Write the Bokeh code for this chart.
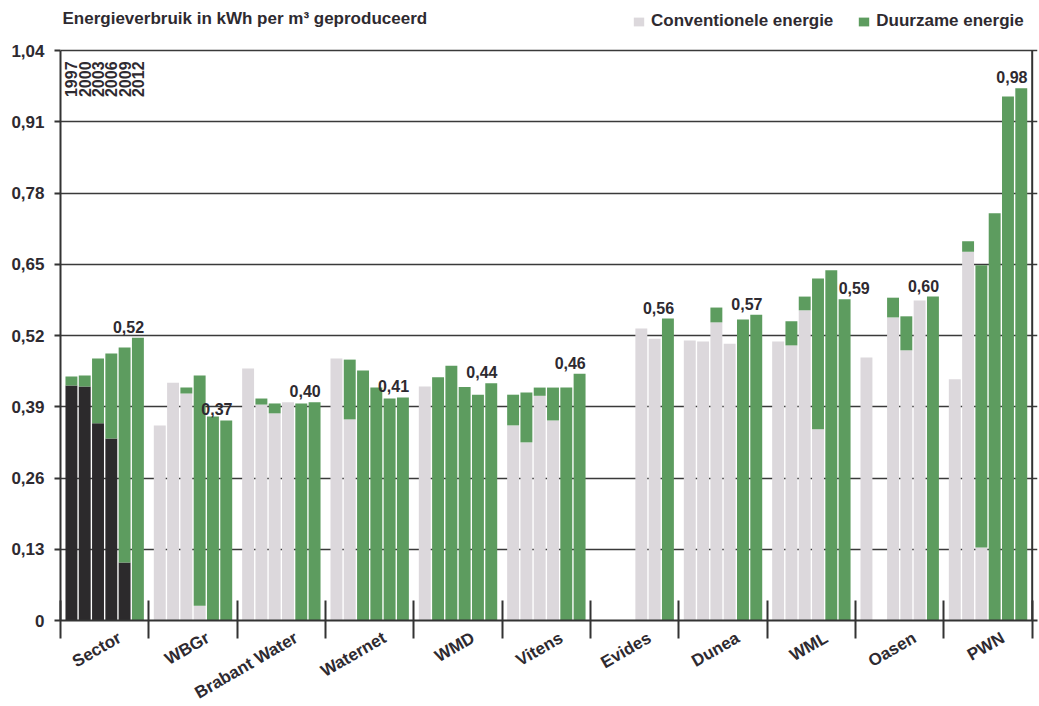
import math
from bokeh.plotting import figure
from bokeh.models import (ColumnDataSource, FixedTicker, Legend, LegendItem,
                          Label, LabelSet, Range1d)
from bokeh.core.properties import value
from bokeh.embed import file_html
from bokeh.resources import INLINE

# ---------------- data ----------------
companies = ["Sector", "WBGr", "Brabant Water", "Waternet", "WMD", "Vitens",
             "Evides", "Dunea", "WML", "Oasen", "PWN"]
years = ["1997", "2000", "2003", "2006", "2009", "2012"]
N = None  # no bar for that year

# conventional energy (kWh per m3), 1997..2012
conv_sector   = [0.429, 0.427, 0.360, 0.332, 0.106, 0.000]
conv_wbgr     = [0.356, 0.434, 0.414, 0.027, 0.000, 0.000]
conv_brabant  = [0.460, 0.394, 0.378, 0.398, 0.000, 0.000]
conv_waternet = [0.478, 0.367, 0.000, 0.000, 0.000, 0.000]
conv_wmd      = [0.427, 0.000, 0.000, 0.000, 0.000, 0.000]
conv_vitens   = [0.356, 0.325, 0.410, 0.365, 0.000, 0.000]
conv_evides   = [N, N, N, 0.533, 0.514, 0.000]
conv_dunea    = [0.511, 0.509, 0.544, 0.505, 0.000, 0.000]
conv_wml      = [0.509, 0.502, 0.566, 0.349, 0.000, 0.000]
conv_oasen    = [0.480, N, 0.553, 0.493, 0.584, 0.000]
conv_pwn      = [0.440, 0.673, 0.133, 0.000, 0.000, 0.000]

# sustainable energy (kWh per m3), 1997..2012
duurz_sector   = [0.016, 0.020, 0.118, 0.155, 0.392, 0.516]
duurz_wbgr     = [0.000, 0.000, 0.011, 0.420, 0.372, 0.365]
duurz_brabant  = [0.000, 0.011, 0.018, 0.000, 0.396, 0.398]
duurz_waternet = [0.000, 0.109, 0.456, 0.425, 0.405, 0.407]
duurz_wmd      = [0.000, 0.444, 0.465, 0.426, 0.412, 0.433]
duurz_vitens   = [0.056, 0.091, 0.015, 0.060, 0.425, 0.450]
duurz_evides   = [N, N, N, 0.000, 0.000, 0.551]
duurz_dunea    = [0.000, 0.000, 0.027, 0.000, 0.549, 0.558]
duurz_wml      = [0.000, 0.044, 0.025, 0.275, 0.639, 0.586]
duurz_oasen    = [0.000, N, 0.036, 0.062, 0.000, 0.591]
duurz_pwn      = [0.000, 0.019, 0.515, 0.743, 0.956, 0.971]

total_labels = ["0,52", "0,37", "0,40", "0,41", "0,44", "0,46",
                "0,56", "0,57", "0,59", "0,60", "0,98"]

y_ticks = [0, 0.13, 0.26, 0.39, 0.52, 0.65, 0.78, 0.91, 1.04]
y_tick_labels = ["0", "0,13", "0,26", "0,39", "0,52", "0,65", "0,78", "0,91", "1,04"]

conv_all = [conv_sector, conv_wbgr, conv_brabant, conv_waternet, conv_wmd, conv_vitens,
            conv_evides, conv_dunea, conv_wml, conv_oasen, conv_pwn]
duurz_all = [duurz_sector, duurz_wbgr, duurz_brabant, duurz_waternet, duurz_wmd, duurz_vitens,
             duurz_evides, duurz_dunea, duurz_wml, duurz_oasen, duurz_pwn]

# ---------------- layout / style ----------------
STEP = 0.1505      # slot spacing inside a group (group width = 1)
BAR_W = 0.135
GREY = "#dcd8dc"
DARK = "#2c2a2c"
GREEN = "#5d9c5f"
INK = "#2e2a30"
LINE = "#333333"
FONT = "Liberation Sans"
FRAME_H = 620
FRAME_W = 977
X_PAD = 0.06                     # room right of the last group for the frame line
Y_TOP = 1.04 * FRAME_H / 570.0   # leaves room for title + legend above the 1,04 line
NG = len(companies)

def slot_x(i, j):
    return i + 0.5 + (j - 2.5) * STEP

dark_src = dict(x=[], top=[])
grey_src = dict(x=[], top=[])
green_src = dict(x=[], bottom=[], top=[])
for i, (cv, dz) in enumerate(zip(conv_all, duurz_all)):
    for j in range(6):
        if cv[j] is None:
            continue
        x = slot_x(i, j)
        if cv[j] > 0:
            tgt = dark_src if i == 0 else grey_src
            tgt["x"].append(x)
            tgt["top"].append(cv[j])
        if dz[j] > 0:
            green_src["x"].append(x)
            green_src["bottom"].append(cv[j])
            green_src["top"].append(cv[j] + dz[j])

p = figure(frame_width=FRAME_W, frame_height=FRAME_H, output_backend="svg",
           toolbar_location=None, x_range=Range1d(0, NG + X_PAD), y_range=Range1d(0, Y_TOP),
           min_border_left=60, min_border_top=0, min_border_right=2, min_border_bottom=86)
p.background_fill_color = "white"
p.border_fill_color = "white"
p.outline_line_color = None

p.xgrid.visible = False
p.ygrid.ticker = FixedTicker(ticks=y_ticks)
p.ygrid.grid_line_color = "#3a3a3a"
p.ygrid.grid_line_width = 1.5

grey_r = p.vbar(x="x", top="top", bottom=0, width=BAR_W, source=ColumnDataSource(grey_src),
                fill_color=GREY, line_color=None)
dark_r = p.vbar(x="x", top="top", bottom=0, width=BAR_W, source=ColumnDataSource(dark_src),
                fill_color=DARK, line_color=None)
green_r = p.vbar(x="x", top="top", bottom="bottom", width=BAR_W, source=ColumnDataSource(green_src),
                 fill_color=GREEN, line_color=None)

# right frame line (from 0 up to the top tick)
p.line(x=[NG, NG], y=[y_ticks[0], y_ticks[-1]], line_color=LINE, line_width=2)

# year labels above the Sector bars
p.text(x=[slot_x(0, j) for j in range(6)], y=[1.02] * 6, text=years, angle=math.pi / 2,
       text_align="right", text_baseline="middle", text_font=value(FONT),
       text_font_style="bold", text_font_size="16px", text_color=INK)

# value labels of 2012
lab_x = [i + 0.77 for i in range(NG)]
lab_dx = [0, 0, 0, 0, 0, 0, 0, 0, 19, 0, 0]
lab_y = [c[5] + d[5] for c, d in zip(conv_all, duurz_all)]
ls = LabelSet(x="x", y="y", text="t", x_offset="dx", y_offset=5,
              source=ColumnDataSource(dict(x=lab_x, y=lab_y, t=total_labels, dx=lab_dx)),
              text_align="center", text_baseline="bottom", text_font=value(FONT),
              text_font_style="bold", text_font_size="16px", text_color=INK)
p.add_layout(ls)

# axes
yax = p.yaxis[0]
yax.ticker = FixedTicker(ticks=y_ticks)
yax.bounds = (0, 1.04)
yax.major_label_overrides = {t: l for t, l in zip(y_ticks, y_tick_labels)}
yax.major_tick_out = 6
yax.major_tick_in = 0
yax.minor_tick_line_color = None
yax.major_tick_line_width = 2
yax.major_tick_line_color = LINE
yax.axis_line_width = 2
yax.axis_line_color = LINE
yax.major_label_standoff = 10
yax.major_label_text_font = FONT
yax.major_label_text_font_style = "bold"
yax.major_label_text_font_size = "17px"
yax.major_label_text_color = INK

xax = p.xaxis[0]
xax.ticker = FixedTicker(ticks=[i + 0.67 for i in range(NG)],
                         minor_ticks=list(range(NG + 1)))
xax.bounds = (0, NG + X_PAD)
xax.major_label_overrides = {i + 0.67: c for i, c in enumerate(companies)}
xax.major_label_orientation = math.pi / 6
xax.major_tick_line_color = None
xax.major_tick_in = 0
xax.major_tick_out = 0
xax.minor_tick_in = 20
xax.minor_tick_out = 18
xax.minor_tick_line_width = 2
xax.minor_tick_line_color = LINE
xax.axis_line_width = 2
xax.axis_line_color = LINE
xax.major_label_standoff = -2
xax.major_label_text_font = FONT
xax.major_label_text_font_style = "bold"
xax.major_label_text_font_size = "17px"
xax.major_label_text_color = INK

# title
p.add_layout(Label(x=2, y=FRAME_H - 18, x_units="screen", y_units="screen",
                   text="Energieverbruik in kWh per m³ geproduceerd",
                   text_font=FONT, text_font_style="bold", text_font_size="17px",
                   text_color=INK, text_baseline="middle"))

legend = Legend(items=[LegendItem(label="Conventionele energie", renderers=[grey_r]),
                       LegendItem(label="Duurzame energie", renderers=[green_r])],
                orientation="horizontal", location=(572, FRAME_H - 31),
                glyph_width=13, glyph_height=11, label_standoff=6, spacing=24,
                padding=0, margin=0, border_line_color=None, background_fill_alpha=0,
                label_height=20, label_text_font=FONT, label_text_font_style="bold",
                label_text_font_size="17px", label_text_color=INK)
p.add_layout(legend)

open("out.html", "w").write(file_html(p, INLINE))
